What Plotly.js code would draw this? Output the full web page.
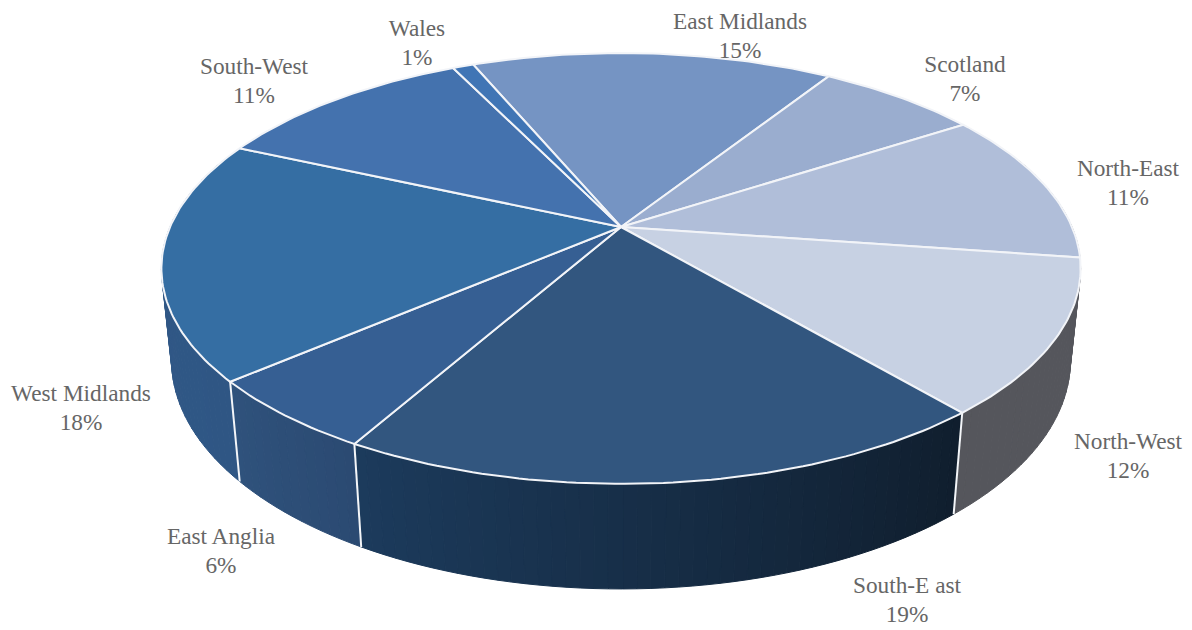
<!DOCTYPE html>
<html>
<head>
<meta charset="utf-8">
<script src="https://cdn.plot.ly/plotly-3.0.1.min.js"></script>
<style>html,body{margin:0;padding:0;background:#fff}#chart{width:1192px;height:630px}</style>
</head>
<body>
<div id="chart"></div>
<script>
// Data (clockwise from the East Midlands slice)
const regions = ['East Midlands','Scotland','North-East','North-West','South-East','East Anglia','West Midlands','South-West','Wales'];
const shares  = [15.3, 6.85, 11.45, 11.56, 19.36, 5.5, 18.03, 11.1, 0.89];
const labelNames = ['East Midlands','Scotland','North-East','North-West','South-E ast','East Anglia','West Midlands','South-West','Wales'];

// Styles
const topColors  = ['#7594c3','#9aadcf','#b0bed9','#c7d1e3','#32567f','#365f93','#356ea3','#4472ae','#4075b5'];
const wallFrom   = ['#7594c3','#9aadcf','#55565c','#55565c','#1c3b5c','#2f527c','#315a89','#4472ae','#4075b5'];
const wallTo     = ['#7594c3','#9aadcf','#55565c','#55565c','#101e2e','#2b4a72','#2f5684','#4472ae','#4075b5'];
const labelX = [740, 965, 1128, 1128, 907, 221, 81, 254, 417];
const nameY  = [23, 66, 170, 443, 587, 538, 395, 68, 30];
const lineGap = 29;

// Perspective projection of the disc
const startAngle = -22.7, cx = 621, cy = 227, R = 451, k = -0.1926, a = 207.4, wallB = 92.8, wallM = 0.022;
const rad = d => d * Math.PI / 180;
function topPt(d){
  const s = Math.sin(rad(d)), c = -Math.cos(rad(d)), w = 1 + k * c;
  return [cx + R * s / w, cy + a * c / w];
}
function botPt(d){
  const s = Math.sin(rad(d)), c = -Math.cos(rad(d)), w = 1 + k * c + wallM;
  return [cx + R * s / w, cy + (a * c + wallB) / w];
}
function hex(c){return [1,3,5].map(i=>parseInt(c.substr(i,2),16));}
function mix(c1,c2,t){const A=hex(c1),B=hex(c2);return 'rgb('+A.map((v,i)=>Math.round(v+(B[i]-v)*t)).join(',')+')';}

const total = shares.reduce((p,v)=>p+v,0);
const edges = [startAngle];
shares.forEach(v=>edges.push(edges[edges.length-1]+v/total*360));

const traces = [];
const strips = [];
const step = 1.5;
shares.forEach((v,i)=>{
  const lo = edges[i], hi = edges[i+1];
  const n = Math.max(1, Math.ceil((hi-lo)/step));
  for(let j=0;j<n;j++){
    const d0 = lo+(hi-lo)*j/n, d1 = lo+(hi-lo)*(j+1)/n;
    const mid = (d0+d1)/2;
    if(mid<70||mid>290) continue;
    const col = mix(wallFrom[i],wallTo[i],1-(j+.5)/n);
    const p = [topPt(d0),topPt(d1),botPt(d1),botPt(d0),topPt(d0)];
    strips.push({order:-Math.cos(rad(mid)),col,p});
  }
});
strips.sort((A,B)=>A.order-B.order).forEach(S=>{
  traces.push({type:'scatter',mode:'lines',x:S.p.map(q=>q[0]),y:S.p.map(q=>q[1]),fill:'toself',fillcolor:S.col,
    line:{color:S.col,width:1},hoverinfo:'skip',showlegend:false});
});
// wall dividers
for(let i=3;i<=5;i++){
  const d = edges[i+1], p0 = topPt(d), p1 = botPt(d);
  traces.push({type:'scatter',mode:'lines',x:[p0[0],p1[0]],y:[p0[1],p1[1]],line:{color:'#f4f6f9',width:2},hoverinfo:'skip',showlegend:false});
}
// top slices
shares.forEach((v,i)=>{
  const lo = edges[i], hi = edges[i+1], xs=[cx], ys=[cy];
  const n = Math.max(4, Math.ceil((hi-lo)/1));
  for(let j=0;j<=n;j++){const q=topPt(lo+(hi-lo)*j/n);xs.push(q[0]);ys.push(q[1]);}
  xs.push(cx);ys.push(cy);
  traces.push({type:'scatter',mode:'lines',x:xs,y:ys,fill:'toself',fillcolor:topColors[i],
    line:{color:'#f2f4f8',width:2},name:regions[i],hoverinfo:'name',showlegend:false});
});
// labels
const labelFont = {family:'"Liberation Serif",serif',size:23.3,color:'#666666'};
traces.push({type:'scatter',mode:'text',x:labelX,y:nameY,text:labelNames,
  textposition:'middle center',textfont:labelFont,hoverinfo:'skip',showlegend:false,cliponaxis:false});
traces.push({type:'scatter',mode:'text',x:labelX,y:nameY.map(v=>v+lineGap),text:shares.map(v=>Math.round(v)+'%'),
  textposition:'middle center',textfont:labelFont,hoverinfo:'skip',showlegend:false,cliponaxis:false});

const layout = {
  width:1192,height:630,margin:{l:0,r:0,t:0,b:0},paper_bgcolor:'#fff',plot_bgcolor:'#fff',showlegend:false,
  xaxis:{range:[0,1192],visible:false,fixedrange:true},
  yaxis:{range:[630,0],visible:false,fixedrange:true}
};
Plotly.newPlot('chart',traces,layout,{displayModeBar:false,staticPlot:true});
</script>
</body>
</html>
